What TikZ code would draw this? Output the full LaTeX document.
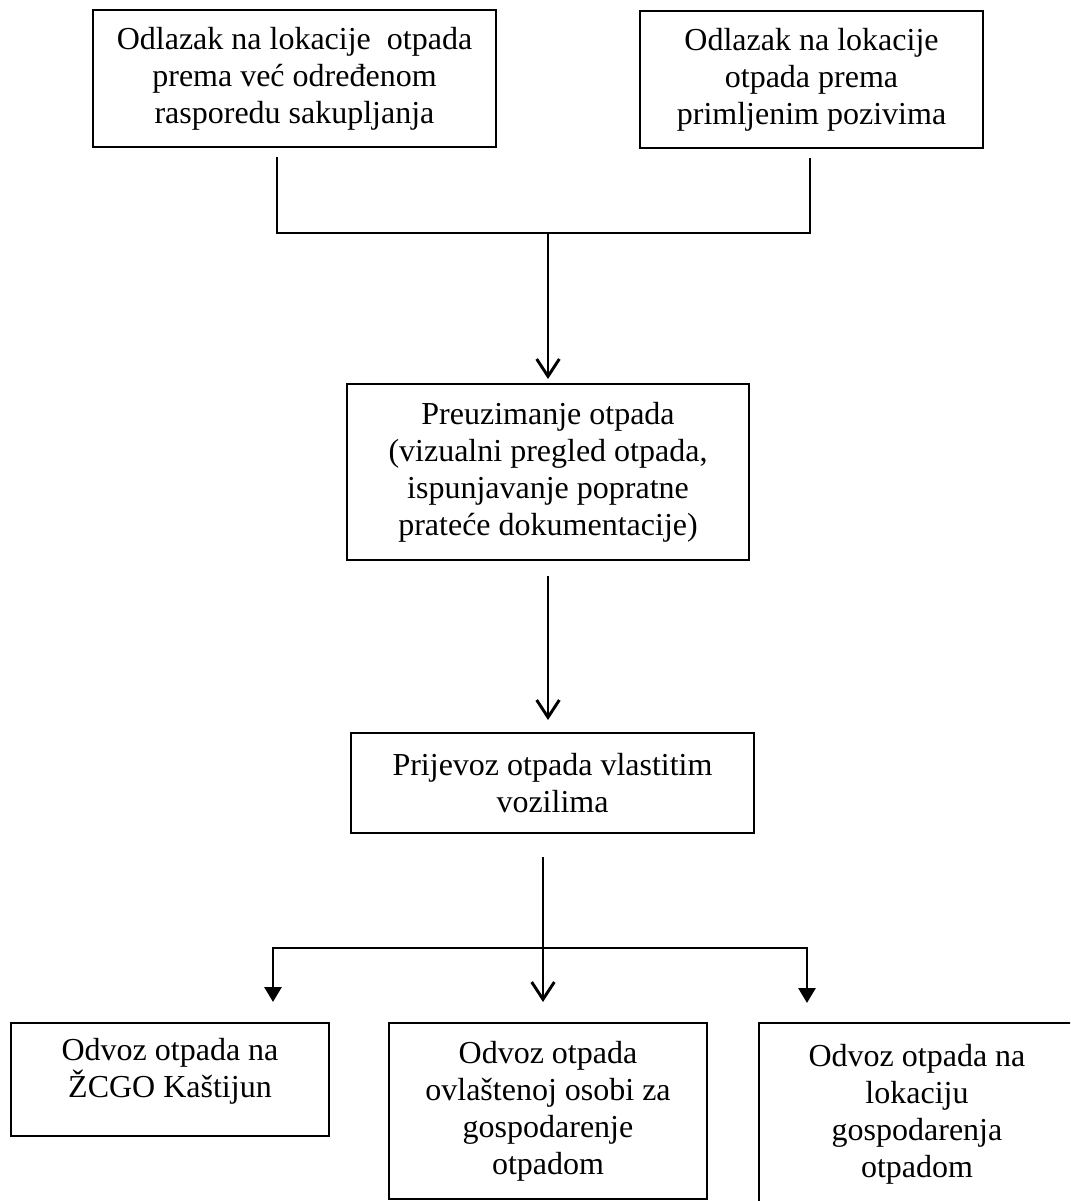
\documentclass[tikz,border=0pt]{standalone}
\usepackage{fontspec}
\setmainfont{Liberation Serif}
\usetikzlibrary{arrows.meta,calc}
\tikzset{
  box/.style={draw, line width=1.2pt, align=center, inner sep=0pt, outer sep=0pt,
    font=\fontsize{24}{27.7}\selectfont},
  conn/.style={line width=2.2pt},
  openarr/.style={conn, -{Straight Barb[length=13pt,width=17pt]}},
  filledarr/.style={conn, -{Triangle[length=11.25pt,width=12.75pt]}}
}
\begin{document}
\begin{tikzpicture}[x=0.75pt,y=-0.75pt]
\path[use as bounding box] (0,0) rectangle (1070,1201);
\clip (0,0) rectangle (1070,1201);

\node[box, minimum width=302.25pt, minimum height=102.75pt] (b1) at (294.5,78.5)
  {Odlazak na lokacije~ otpada\\prema već određenom\\rasporedu sakupljanja};
\node[box, minimum width=257.25pt, minimum height=102.75pt] (b2) at (811.5,79.5)
  {Odlazak na lokacije\\otpada prema\\primljenim pozivima};
\node[box, minimum width=301.5pt, minimum height=132pt] (b3) at (548,472)
  {Preuzimanje otpada\\(vizualni pregled otpada,\\ispunjavanje popratne\\prateće dokumentacije)};
\node[box, minimum width=302.25pt, minimum height=75pt] (b4) at (552.5,783)
  {Prijevoz otpada vlastitim\\vozilima};
\node[box, minimum width=238.5pt, minimum height=84.75pt] (b5) at (170,1079.5)
  {Odvoz otpada na\\ŽCGO Kaštijun\rule[-18pt]{0pt}{1pt}};
\node[box, minimum width=238.5pt, minimum height=132pt] (b6) at (548,1111)
  {Odvoz otpada\\ovlaštenoj osobi za\\gospodarenje\\otpadom};
\node[box, minimum width=237pt, minimum height=137.25pt] (b7) at (917,1114.5)
  {Odvoz otpada na\\lokaciju\\gospodarenja\\otpadom};

% top junction
\coordinate (jl) at (277,233);
\coordinate (jr) at (810,233);
\coordinate (jn) at (548,233);
\draw[conn, shorten <=7.5pt, shorten >=7.5pt] (b1.south -| jl) -- (jl) -- (jr) -- (b2.south -| jr);
\draw[openarr, shorten >=3.75pt] (jn) -- (b3);

% middle
\draw[openarr, shorten <=12pt, shorten >=9.75pt] (b3.south) -- (b3.south |- b4.north);

% bottom distribution
\coordinate (jb) at (543,948);
\coordinate (bl) at (273,948);
\coordinate (br) at (807,948);
\draw[openarr, shorten <=18pt, shorten >=15.75pt] (b4.south -| jb) -- (b6.north -| jb);
\draw[filledarr, shorten >=15.75pt] (jb) -| (b5.north -| bl);
\draw[filledarr, shorten >=15pt] (jb) -| (b7.north -| br);
\end{tikzpicture}
\end{document}
